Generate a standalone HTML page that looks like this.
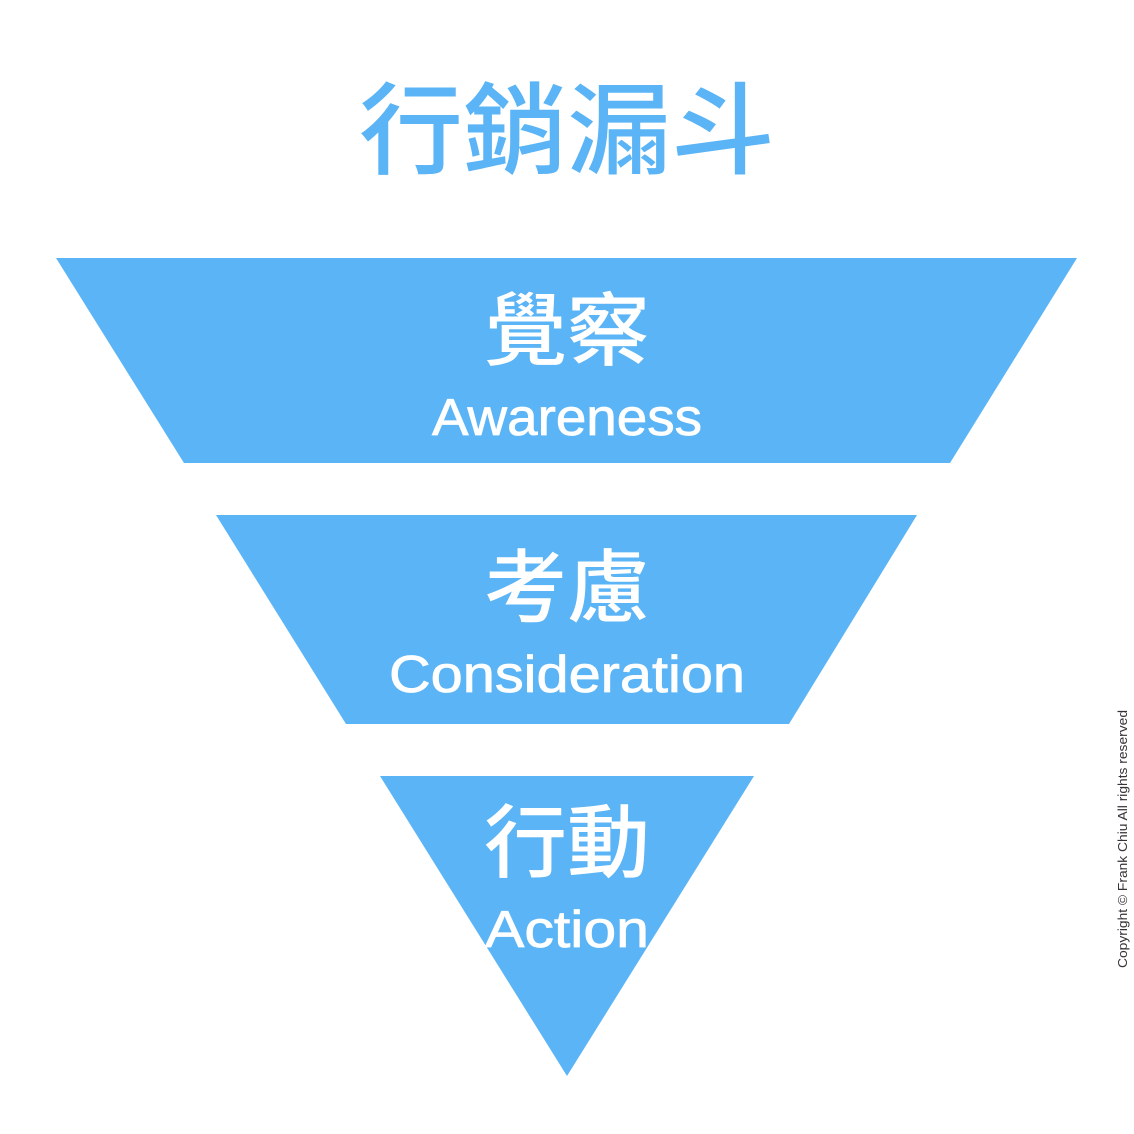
<!DOCTYPE html>
<html><head><meta charset="utf-8"><style>
html,body{margin:0;padding:0;background:#fff;}
svg{display:block;}
</style></head><body>
<svg width="1134" height="1134" viewBox="0 0 1134 1134" xmlns="http://www.w3.org/2000/svg">
<rect width="1134" height="1134" fill="#fff"/>
<text x="567" y="166" text-anchor="middle" font-family="'Noto Sans CJK TC','Noto Sans CJK SC',sans-serif" font-weight="500" font-size="100" fill="#5AB4F5" textLength="416" lengthAdjust="spacingAndGlyphs">行銷漏斗</text>
<polygon points="56,258 1077,258 950,463 184,463" fill="#5AB4F5"/>
<polygon points="216,515 917,515 789,724 346,724" fill="#5AB4F5"/>
<polygon points="380,776 754,776 567,1076" fill="#5AB4F5"/>
<g fill="#fff" text-anchor="middle">
<text x="567" y="359" font-family="'Noto Sans CJK TC',sans-serif" font-weight="500" font-size="80" textLength="166" lengthAdjust="spacingAndGlyphs">覺察</text>
<text x="567" y="435" font-family="'Liberation Sans',sans-serif" font-size="52" stroke="#fff" stroke-width="0.8" textLength="270" lengthAdjust="spacingAndGlyphs">Awareness</text>
<text x="567" y="616" font-family="'Noto Sans CJK TC',sans-serif" font-weight="500" font-size="80" textLength="166" lengthAdjust="spacingAndGlyphs">考慮</text>
<text x="567" y="692" font-family="'Liberation Sans',sans-serif" font-size="52" stroke="#fff" stroke-width="0.8" textLength="356" lengthAdjust="spacingAndGlyphs">Consideration</text>
<text x="567" y="871" font-family="'Noto Sans CJK TC',sans-serif" font-weight="500" font-size="80" textLength="166" lengthAdjust="spacingAndGlyphs">行動</text>
<text x="567" y="947" font-family="'Liberation Sans',sans-serif" font-size="52" stroke="#fff" stroke-width="0.8" textLength="164" lengthAdjust="spacingAndGlyphs">Action</text>
</g>
<text transform="translate(1127,968) rotate(-90)" font-family="'Liberation Sans',sans-serif" font-size="13" fill="#333" textLength="258" lengthAdjust="spacingAndGlyphs">Copyright © Frank Chiu All rights reserved</text>
</svg>
</body></html>
